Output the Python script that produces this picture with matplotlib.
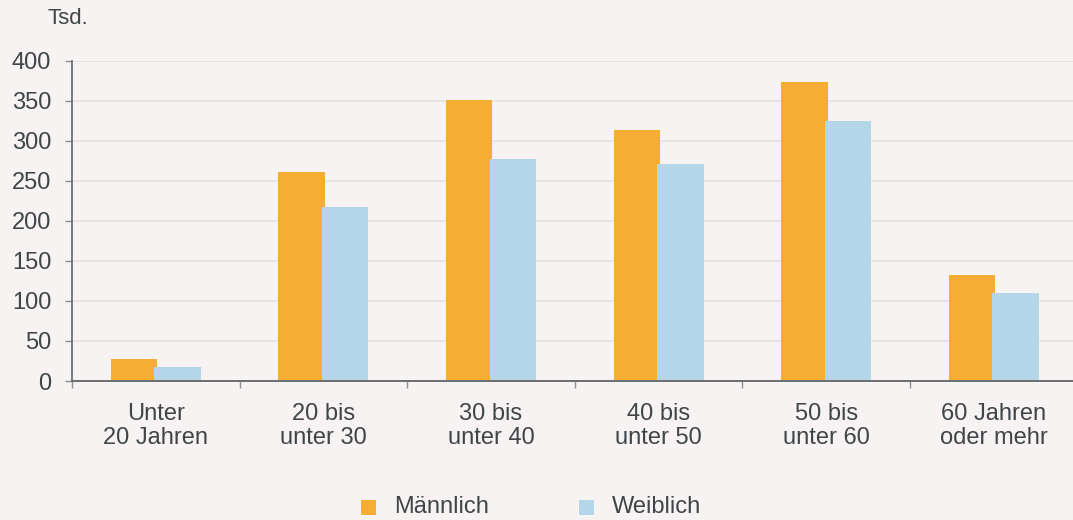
import matplotlib
matplotlib.use("Agg")
import matplotlib.pyplot as plt
import numpy as np
from matplotlib.patches import Rectangle

categories = ["Unter\n20 Jahren", "20 bis\nunter 30", "30 bis\nunter 40",
              "40 bis\nunter 50", "50 bis\nunter 60", "60 Jahren\noder mehr"]
maennlich = [27, 261, 351, 314, 374, 133]
weiblich = [17.5, 217, 277, 271, 325, 110]
series_names = ["Männlich", "Weiblich"]
yticks = [0, 50, 100, 150, 200, 250, 300, 350, 400]
unit_label = "Tsd."

c_m = "#F6AD33"
c_w = "#B3D6E8"
bg = "#F7F3F2"
txt = "#3F4549"

plt.rcParams['font.family'] = ['Liberation Sans', 'DejaVu Sans']

W, H = 1073, 520
fig = plt.figure(figsize=(W / 100, H / 100), dpi=100, facecolor=bg)
ax = fig.add_axes([72 / W, 1 - 381 / H, 1005.6 / W, 320.3 / H])
ax.set_facecolor(bg)

x = np.arange(len(categories))
bw = 0.277
off = 0.13
ax.bar(x - off, maennlich, bw, color=c_m, zorder=3)
ax.bar(x + off, weiblich, bw, color=c_w, zorder=3)

ax.set_xlim(-0.5, len(categories) - 0.5)
ax.set_ylim(0, 400)
ax.set_yticks(yticks)
ax.set_yticklabels([str(v) for v in yticks])
ax.grid(axis='y', color="#E4E2E1", linewidth=1.2, zorder=0)
ax.set_axisbelow(True)

ax.set_xticks(x)
ax.set_xticklabels(categories)
ax.set_xticks(np.arange(len(categories) + 1) - 0.5, minor=True)
ax.tick_params(axis='x', which='major', length=0, pad=16, labelsize=17, labelcolor=txt)
ax.tick_params(axis='x', which='minor', length=5, width=1, color="#8A9096")
ax.tick_params(axis='y', length=5, width=1, color="#8A9096", pad=10, labelsize=17, labelcolor=txt)
for lbl in ax.get_xticklabels():
    lbl.set_linespacing(1.1)

for s in ['top', 'right']:
    ax.spines[s].set_visible(False)
ax.spines['left'].set_color("#5B6670")
ax.spines['bottom'].set_color("#6B6E70")
ax.spines['left'].set_linewidth(1.2)
ax.spines['bottom'].set_linewidth(1.4)
ax.spines['bottom'].set_zorder(4)

fig.text(47 / W, 1 - 18 / H, unit_label, fontsize=16, color=txt, va='center', ha='left')

# legend
for name, col, sx in [(series_names[0], c_m, 361), (series_names[1], c_w, 579)]:
    fig.patches.append(Rectangle((sx / W, 1 - 515 / H), 15 / W, 15 / H,
                                 transform=fig.transFigure, facecolor=col, edgecolor='none'))
    fig.text((sx + 33) / W, 1 - 507 / H, name, fontsize=17, color=txt, va='center', ha='left')

fig.savefig("out.png", dpi=100, facecolor=bg)
